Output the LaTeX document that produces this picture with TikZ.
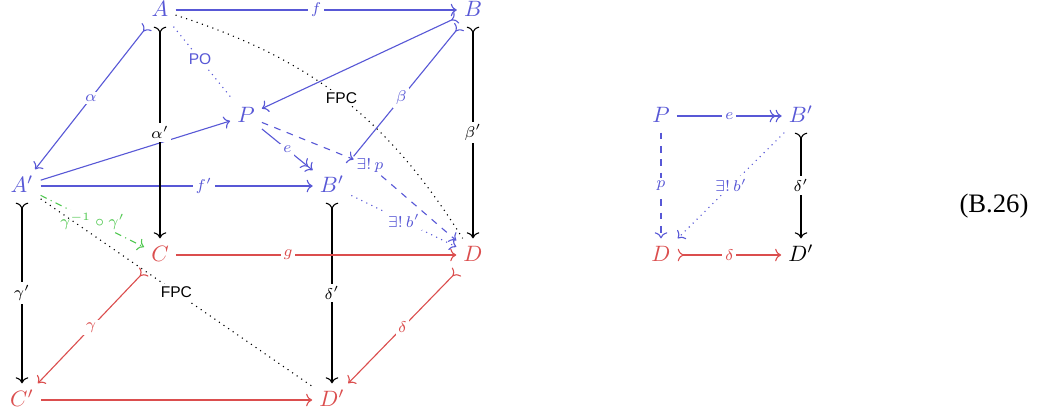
\documentclass[tikz,border=0pt]{standalone}
\usepackage{amsmath,amssymb}
\usepackage{fontspec}
\setmainfont{Liberation Serif}
\setsansfont{Liberation Sans}
\usetikzlibrary{arrows.meta,positioning}
\definecolor{CatBlue}{RGB}{88,88,214}
\definecolor{CatRed}{RGB}{219,78,78}
\definecolor{CatGreen}{RGB}{80,200,80}
\tikzset{
  obj/.style={inner sep=3pt, text height=1.6ex, text depth=.25ex},
  lbl/.style={fill=white, inner sep=1.2pt, font=\scriptsize, anchor=center},
  cdarrow/.style={-{Computer Modern Rightarrow[]}},
  monoarrow/.style={{Computer Modern Rightarrow[reversed]}-{Computer Modern Rightarrow[]}},
  monotail/.style={{Computer Modern Rightarrow[reversed]}-},
  epiarrow/.style={-{Computer Modern Rightarrow[] Computer Modern Rightarrow[]}},
  fpclbl/.style={lbl, font=\sffamily\scriptsize}
}

\begin{document}
\begin{tikzpicture}[x=0.45pt, y=-0.45pt, line width=0.5pt]
  \useasboundingbox (0,0) rectangle (1052,417);
  % cube
  \node[obj, text=CatBlue] (A) at (160,10) {$A$};
  \node[obj, text=CatBlue] (B) at (473,10) {$B$};
  \node[obj, text=CatBlue] (P) at (246,116) {$P$};
  \node[obj, text=CatBlue] (A1) at (22,186) {$A'$};
  \node[obj, text=CatBlue] (B1) at (332,186) {$B'$};
  \node[obj, text=CatRed] (C) at (160,255) {$C$};
  \node[obj, text=CatRed] (D) at (473,255) {$D$};
  \node[obj, text=CatRed] (C1) at (22,400) {$C'$};
  \node[obj, text=CatRed] (D1) at (332,400) {$D'$};
  \node[CatBlue, font=\scriptsize, fill=white, inner sep=1pt] (plab) at (370,166) {$\exists!\,p$};
  % top face
  \draw[cdarrow, CatBlue] (A) -- node[lbl] {$f$} (B);
  \draw[monoarrow, CatBlue] (A) -- node[lbl] {$\alpha$} (A1);
  \draw[monoarrow, CatBlue] (B) -- (P);
  \draw[cdarrow, CatBlue] (A1) -- (P);
  \draw[dotted, CatBlue] (A) -- node[fpclbl, pos=0.45] {PO} (P);
  \draw[monotail, CatBlue] (B) -- node[lbl, pos=0.55] {$\beta$} (plab.north west);
  \draw[epiarrow, CatBlue] (P) -- node[lbl] {$e$} (B1);
  \draw[dashed, cdarrow, CatBlue] (P) -- (plab);
  \draw[dashed, cdarrow, CatBlue] (plab) -- (D);
  \draw[cdarrow, CatBlue] (A1) -- node[lbl, pos=0.6] {$f'$} (B1);
  \draw[dotted, cdarrow, CatBlue] (B1) -- node[lbl] {$\exists!\,b'$} (D);
  % verticals
  \draw[monoarrow] (A) -- node[lbl] {$\alpha'$} (C);
  \draw[monoarrow] (B) -- node[lbl] {$\beta'$} (D);
  \draw[monoarrow] (A1) -- node[lbl] {$\gamma'$} (C1);
  \draw[monoarrow] (B1) -- node[lbl] {$\delta'$} (D1);
  % bottom face
  \draw[cdarrow, CatRed] (C) -- node[lbl, pos=0.4] {$g$} (D);
  \draw[monoarrow, CatRed] (C) -- node[lbl] {$\gamma$} (C1);
  \draw[monoarrow, CatRed] (D) -- node[lbl] {$\delta$} (D1);
  \draw[cdarrow, CatRed] (C1) -- (D1);
  \draw[cdarrow, CatGreen, dash dot] (A1) -- node[lbl] {$\gamma^{-1}\circ\gamma'$} (C);
  % pullback marks
  \draw[dotted] (A) to[bend left=20] node[fpclbl] {FPC} (D);
  \draw[dotted] (A1) -- node[fpclbl] {FPC} (D1);

  % square on the right
  \node[obj, text=CatBlue] (Pr) at (661,116) {$P$};
  \node[obj, text=CatBlue] (Br) at (801,116) {$B'$};
  \node[obj, text=CatRed] (Dr) at (661,255) {$D$};
  \node[obj] (D1r) at (801,255) {$D'$};
  \draw[epiarrow, CatBlue] (Pr) -- node[lbl] {$e$} (Br);
  \draw[dashed, cdarrow, CatBlue] (Pr) -- node[lbl] {$p$} (Dr);
  \draw[dotted, cdarrow, CatBlue] (Br) -- node[lbl] {$\exists!\,b'$} (Dr);
  \draw[monoarrow] (Br) -- node[lbl] {$\delta'$} (D1r);
  \draw[monoarrow, CatRed] (Dr) -- node[lbl] {$\delta$} (D1r);

  \node[font=\large] (eqno) at (994,206) {(B.26)};
\end{tikzpicture}
\end{document}
